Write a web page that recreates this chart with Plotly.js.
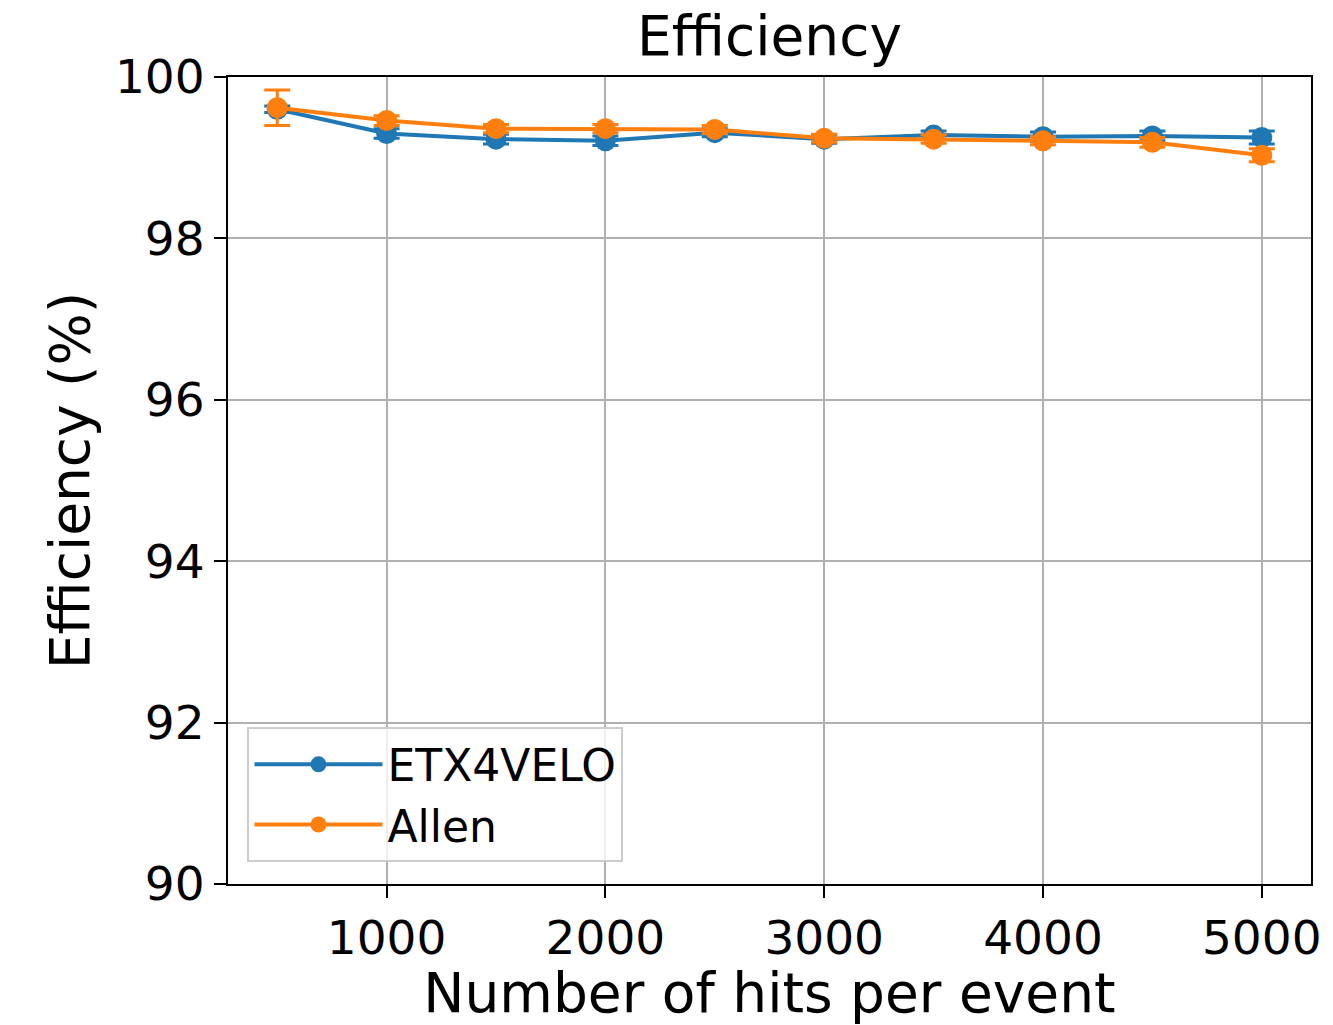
<!DOCTYPE html>
<html>
<head>
<meta charset="utf-8">
<script src="https://cdn.plot.ly/plotly-3.0.1.min.js"></script>
<style>html,body{margin:0;padding:0;background:#fff;}#chart{width:1333px;height:1025px;}</style>
</head>
<body>
<div id="chart"></div>
<script>
const hits = [500, 1000, 1500, 2000, 2500, 3000, 3500, 4000, 4500, 5000];
const etxEff = [99.60, 99.30, 99.23, 99.21, 99.31, 99.23, 99.28, 99.26, 99.27, 99.25];
const etxErr = [0.04, 0.06, 0.06, 0.06, 0.05, 0.05, 0.05, 0.06, 0.06, 0.08];
const allenEff = [99.62, 99.46, 99.36, 99.36, 99.35, 99.24, 99.23, 99.21, 99.19, 99.03];
const allenErr = [0.22, 0.06, 0.05, 0.05, 0.05, 0.05, 0.05, 0.05, 0.06, 0.08];
const xTicks = [1000, 2000, 3000, 4000, 5000];
const yTicks = [90, 92, 94, 96, 98, 100];

const font = 'DejaVu Sans, sans-serif';
function trace(name, y, err, color) {
  return {
    x: hits, y: y, name: name, type: 'scatter', mode: 'lines+markers',
    line: {color: color, width: 4},
    marker: {color: color, size: 21},
    error_y: {type: 'data', array: err, visible: true, color: color, thickness: 3, width: 13}
  };
}
const data = [
  trace('ETX4VELO', etxEff, etxErr, '#1f77b4'),
  trace('Allen', allenEff, allenErr, '#ff7f0e')
];
const axisCommon = {
  showline: true, linecolor: '#000', linewidth: 2, mirror: true,
  ticks: 'outside', ticklen: 12, tickwidth: 2, tickcolor: '#000',
  showgrid: true, gridcolor: '#b0b0b0', gridwidth: 2, zeroline: false,
  tickfont: {family: font, size: 47, color: '#000'}
};
const layout = {
  width: 1333, height: 1025,
  paper_bgcolor: '#fff', plot_bgcolor: '#fff',
  margin: {l: 228, r: 22, t: 77, b: 141},
  title: {text: 'Efficiency', font: {family: font, size: 55, color: '#000'}, x: 0.5, xref: 'paper', y: 0.984, yanchor: 'top', yref: 'container'},
  xaxis: Object.assign({}, axisCommon, {
    range: [275, 5225], tickvals: xTicks, ticktext: xTicks.map(String),
    title: {text: 'Number of hits per event', font: {family: font, size: 55, color: '#000'}, standoff: 10}
  }),
  yaxis: Object.assign({}, axisCommon, {
    range: [90, 100], tickvals: yTicks, ticktext: yTicks.map(String),
    title: {text: 'Efficiency (%)', font: {family: font, size: 55, color: '#000'}, standoff: 8}
  }),
  showlegend: true,
  legend: {
    x: 0.018, y: 0.027, xanchor: 'left', yanchor: 'bottom',
    bgcolor: 'rgba(255,255,255,0.8)', bordercolor: '#cccccc', borderwidth: 2,
    font: {family: font, size: 44, color: '#000'},
    itemwidth: 128
  }
};
Plotly.newPlot('chart', data, layout, {displayModeBar: false, staticPlot: true});
</script>
</body>
</html>
